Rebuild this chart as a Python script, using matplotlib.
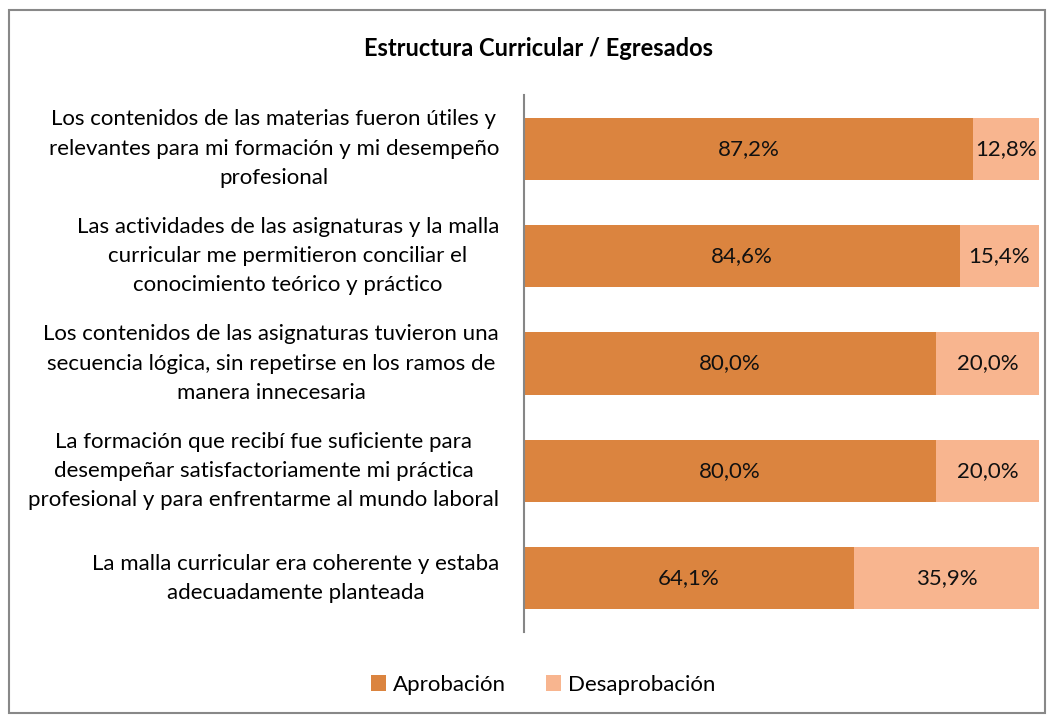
import numpy as np
import matplotlib
matplotlib.use('Agg')
from matplotlib import pyplot as plt
from matplotlib.patches import Rectangle

plt.rcParams['font.family'] = ['Lato', 'DejaVu Sans']

categorias = [
    "Los contenidos de las materias fueron útiles y\nrelevantes para mi formación y mi desempeño\nprofesional",
    "Las actividades de las asignaturas y la malla\ncurricular me permitieron conciliar el\nconocimiento teórico y práctico",
    "Los contenidos de las asignaturas tuvieron una\nsecuencia lógica, sin repetirse en los ramos de\nmanera innecesaria",
    "La formación que recibí fue suficiente para\ndesempeñar satisfactoriamente mi práctica\nprofesional y para enfrentarme al mundo laboral",
    "La malla curricular era coherente y estaba\nadecuadamente planteada",
]
aprobacion = [87.2, 84.6, 80.0, 80.0, 64.1]
desaprobacion = [12.8, 15.4, 20.0, 20.0, 35.9]

c_aprob = '#DB843F'
c_desap = '#F8B58F'
fs = 16

fig = plt.figure(figsize=(10.53, 7.19), dpi=100)
W, H = 1053, 719
ax = fig.add_axes([524 / W, 1 - 632 / H, (1039 - 524) / W, (632 - 95) / H])

y = np.arange(len(categorias))
ax.barh(y, aprobacion, height=0.58, color=c_aprob, label='Aprobación')
ax.barh(y, desaprobacion, left=aprobacion, height=0.58, color=c_desap, label='Desaprobación')

for i in range(len(y)):
    ax.text(aprobacion[i] / 2, y[i], f"{aprobacion[i]:.1f}%".replace('.', ','),
            ha='center', va='center', fontsize=fs, color='#111111')
    ax.text(aprobacion[i] + desaprobacion[i] / 2, y[i], f"{desaprobacion[i]:.1f}%".replace('.', ','),
            ha='center', va='center', fontsize=fs, color='#111111')

ax.set_xlim(0, 100)
ax.set_ylim(len(y) - 0.5, -0.5)
ax.set_yticks(y)
ax.set_yticklabels(categorias, fontsize=fs, multialignment='center', linespacing=1.58, va='center')
ax.tick_params(axis='y', length=0, pad=18)
ax.set_xticks([])
for s in ['top', 'right', 'bottom']:
    ax.spines[s].set_visible(False)
ax.spines['left'].set_color('#868686')
ax.spines['left'].set_linewidth(1.5)

fig.text(538 / W, 1 - 48 / H, 'Estructura Curricular / Egresados', ha='center', va='center',
         fontsize=17, fontweight='bold')

fig.legend(loc='center', bbox_to_anchor=(543 / W, 1 - 685 / H), ncol=2, frameon=False,
           fontsize=fs, handlelength=0.7, handleheight=0.7, handletextpad=0.3, columnspacing=1.8)

fig.patches.append(Rectangle((9 / W, 1 - 713 / H), (1045 - 9) / W, (713 - 10) / H,
                             transform=fig.transFigure, fill=False, edgecolor='#888888', linewidth=1.5))

fig.savefig('out.png', dpi=100)
